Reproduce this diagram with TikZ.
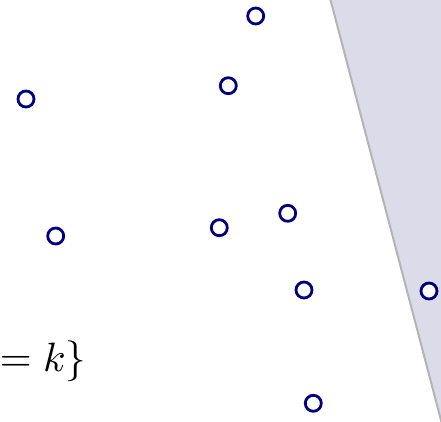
\documentclass[tikz,border=0pt]{standalone}
\usepackage{xcolor}
\usepackage{tikz}
\definecolor{navy}{HTML}{000080}
\definecolor{halfsp}{HTML}{DBDBEA}
\definecolor{bound}{HTML}{B4B4B4}
\tikzset{
  pnt/.style={circle,draw=navy,fill=white,line width=2.8pt,minimum size=16pt,inner sep=0pt},
  half/.style={fill=halfsp,draw=none},
  edge/.style={draw=bound,line width=2pt},
  lab/.style={inner sep=0pt,font=\fontsize{10}{12}\selectfont,scale=4.1},
}
\begin{document}
\begin{tikzpicture}[x=1pt,y=-1pt]
\useasboundingbox (0,0) rectangle (441,421);
\clip (0,0) rectangle (441,421);
% half plane
\coordinate (top) at (330,-2);
\coordinate (bot) at (442,424);
\fill[half] (top) -- (bot) -- (445,424) -- (445,-2) -- cycle;
\draw[edge] (top) -- (bot);
% points
\node[pnt] (p1) at (255.7,16) {};
\node[pnt] (p2) at (228.3,85.7) {};
\node[pnt] (p3) at (26,99) {};
\node[pnt] (p4) at (55.7,236) {};
\node[pnt] (p5) at (219.3,227.7) {};
\node[pnt] (p6) at (287.7,213.3) {};
\node[pnt] (p7) at (304,290) {};
\node[pnt] (p8) at (429,291) {};
\node[pnt] (p9) at (313.3,403.3) {};
% set label
\node[lab,anchor=base west] (set) at (-1,371) {$= k\}$};
\end{tikzpicture}
\end{document}
